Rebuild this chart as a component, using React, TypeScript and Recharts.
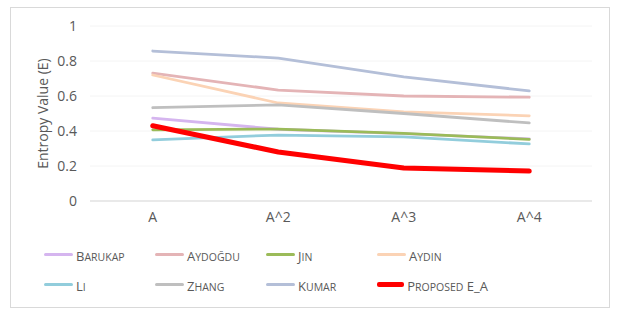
import { LineChart, Line, XAxis, YAxis, CartesianGrid } from 'recharts';

const categories = ['A', 'A^2', 'A^3', 'A^4'];
const barukap = [0.474, 0.41, 0.385, 0.355];
const aydogdu = [0.731, 0.634, 0.6, 0.593];
const jin = [0.407, 0.411, 0.387, 0.352];
const aydin = [0.72, 0.56, 0.509, 0.487];
const li = [0.349, 0.377, 0.366, 0.326];
const zhang = [0.533, 0.549, 0.5, 0.446];
const kumar = [0.857, 0.817, 0.709, 0.629];
const proposed = [0.43, 0.28, 0.189, 0.171];
const yTicks = [0, 0.2, 0.4, 0.6, 0.8, 1];

const series = [
  { key: 'barukap', name: 'Barukap', values: barukap, color: '#d5b5ef', width: 2.8 },
  { key: 'aydogdu', name: 'Aydoğdu', values: aydogdu, color: '#e4b4b6', width: 2.8 },
  { key: 'jin', name: 'Jin', values: jin, color: '#9bbb59', width: 2.8 },
  { key: 'aydin', name: 'Aydin', values: aydin, color: '#fbd3b5', width: 2.8 },
  { key: 'li', name: 'Li', values: li, color: '#92cddc', width: 2.8 },
  { key: 'zhang', name: 'Zhang', values: zhang, color: '#bfbfbf', width: 2.8 },
  { key: 'kumar', name: 'Kumar', values: kumar, color: '#b4bfd8', width: 2.8 },
  { key: 'proposed', name: 'Proposed E_A', values: proposed, color: '#ff0000', width: 5 },
];

const data = categories.map((name, i) => {
  const row: Record<string, string | number> = { name };
  series.forEach((s) => (row[s.key] = s.values[i]));
  return row;
});

const font = '"Open Sans", "Noto Sans", sans-serif';
const grey = '#595959';

// small caps like Excel's legend: lowercase letters drawn as smaller capitals
function SmallCaps({ text }: { text: string }) {
  return (
    <span style={{ whiteSpace: 'nowrap', color: grey }}>
      {text.split('').map((ch, i) =>
        ch !== ch.toUpperCase() ? (
          <span key={i} style={{ fontSize: 10.5 }}>{ch.toUpperCase()}</span>
        ) : (
          <span key={i} style={{ fontSize: 13 }}>{ch}</span>
        )
      )}
    </span>
  );
}

export default function App() {
  return (
    <div style={{ position: 'absolute', left: 0, top: 0, width: 618, height: 314, background: '#fff', fontFamily: font }}>
      <div
        style={{
          position: 'absolute',
          left: 10,
          top: 7,
          width: 598,
          height: 299,
          border: '1px solid #d9d9d9',
        }}
      >
        <LineChart width={598} height={299} data={data} margin={{ top: 18, right: 17, left: 0, bottom: 76 }}>
          <CartesianGrid vertical={false} stroke="#f4f4f4" />
          <XAxis
            dataKey="name"
            scale="band"
            height={30}
            axisLine={{ stroke: '#d9d9d9' }}
            tickLine={false}
            tickSize={0}
            tickMargin={11}
            tick={{ fontSize: 14, fill: grey, fontFamily: font }}
          />
          <YAxis
            width={79}
            domain={[0, 1]}
            ticks={yTicks}
            axisLine={false}
            tickLine={false}
            tickSize={0}
            tickMargin={13}
            tick={{ fontSize: 14, fill: grey, fontFamily: font }}
            label={{
              value: 'Entropy Value (E)',
              angle: -90,
              position: 'insideLeft',
              dx: 27,
              style: { textAnchor: 'middle', fontSize: 14, fill: grey, fontFamily: font },
            }}
          />
          {series.map((s) => (
            <Line
              key={s.key}
              type="linear"
              dataKey={s.key}
              name={s.name}
              stroke={s.color}
              strokeWidth={s.width}
              strokeLinecap="round"
              strokeLinejoin="round"
              dot={false}
              activeDot={false}
              isAnimationActive={false}
            />
          ))}
        </LineChart>
        <div style={{ position: 'absolute', left: 33, top: 237, width: 450, display: 'grid', gridTemplateColumns: 'repeat(4, 111px)', rowGap: 11 }}>
          {series.map((s) => (
            <div key={s.key} style={{ display: 'flex', alignItems: 'center', height: 19 }}>
              <span style={{ display: 'inline-block', width: 29, height: s.width, background: s.color, borderRadius: 2, marginRight: 3 }} />
              <SmallCaps text={s.name} />
            </div>
          ))}
        </div>
      </div>
    </div>
  );
}
